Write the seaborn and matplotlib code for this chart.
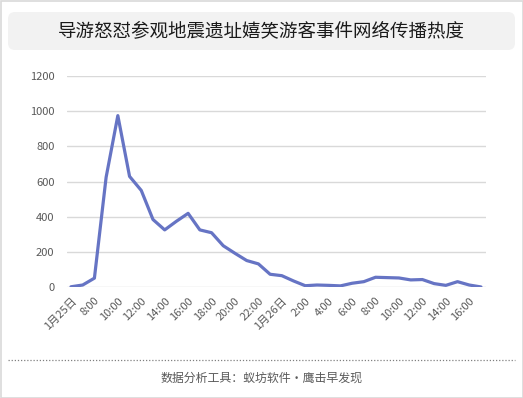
import numpy as np
import pandas as pd
import matplotlib.pyplot as plt
import seaborn as sns
from matplotlib.patches import FancyBboxPatch, Rectangle

# Hourly heat values, 1/25 6:00 -> 1/26 17:00
time_labels = ['1月25日'] + [f'{h}:00' for h in range(7, 24)] + \
              ['1月26日'] + [f'{h}:00' for h in range(1, 18)]
heat = [3, 13, 52, 625, 975, 630, 550, 385, 326, 375,
        420, 326, 310, 236, 193, 152, 133, 74, 66, 36,
        9, 13, 11, 8, 23, 32, 57, 55, 53, 42,
        44, 21, 11, 32, 13, 2]

title = '导游怒怼参观地震遗址嬉笑游客事件网络传播热度'
footer = '数据分析工具：蚁坊软件·鹰击早发现'

sns.set_style('white')
plt.rcParams['font.family'] = ['Noto Sans CJK SC', 'DejaVu Sans']

W, H = 523, 398
fig = plt.figure(figsize=(W / 100, H / 100), dpi=100)

# background layer in pixel coordinates
bg = fig.add_axes([0, 0, 1, 1], zorder=0)
bg.set_xlim(0, W)
bg.set_ylim(H, 0)
bg.axis('off')
bg.add_patch(Rectangle((0.5, 0.5), W - 1, H - 1, fill=False, ec='#d9d9d9', lw=1.2))
bg.add_patch(FancyBboxPatch((8, 12), 507, 38, boxstyle='round,pad=0,rounding_size=7',
                            fc='#f2f2f2', ec='none'))
bg.text(W / 2, 31, title, ha='center', va='center', fontsize=13.3, color='#1a1a1a')
bg.plot([8, 515], [360, 360], ls=(0, (1, 1.5)), color='#808080', lw=0.9)
bg.text(W / 2, 378, footer, ha='center', va='center', fontsize=8.6, color='#595959')

df = pd.DataFrame({'idx': range(len(heat)), 'heat': heat})

ax = fig.add_axes([67 / W, 1 - 287.3 / H, (486 - 67) / W, (287.3 - 76) / H], zorder=1)
ax.patch.set_alpha(0)
sns.lineplot(data=df, x='idx', y='heat', ax=ax, color='#6674c4', lw=2.3,
             solid_joinstyle='round', solid_capstyle='round')

ax.set_ylim(0, 1200)
ax.set_yticks(range(0, 1201, 200))
ax.set_xlim(-0.34, len(heat) - 1 + 0.43)
ax.set_xticks(df['idx'][::2])
ax.set_xticklabels(time_labels[::2], rotation=45, ha='right', rotation_mode='anchor')
ax.set_xlabel('')
ax.set_ylabel('')
ax.grid(axis='y', color='#d9d9d9', lw=1)
ax.grid(axis='x', visible=False)
for s in ax.spines.values():
    s.set_visible(False)
ax.tick_params(axis='both', length=0, labelsize=8, colors='#595959')
ax.tick_params(axis='y', pad=9)
ax.tick_params(axis='x', pad=6)

fig.savefig('out.png', dpi=100)
